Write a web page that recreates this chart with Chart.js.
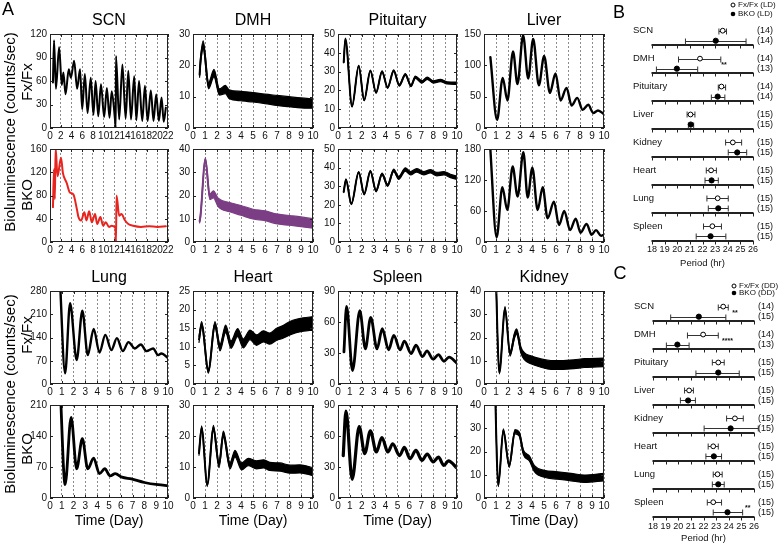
<!DOCTYPE html>
<html><head><meta charset="utf-8">
<script src="https://cdn.jsdelivr.net/npm/chart.js@4.4.1/dist/chart.umd.min.js"></script>
<style>
html,body{margin:0;padding:0;background:#fff;}
#wrap{position:relative;width:780px;height:545px;overflow:hidden;font-family:"Liberation Sans",Arial,sans-serif;color:#000;}
canvas{position:absolute;}
.t{position:absolute;white-space:nowrap;transform:translate(-50%,-50%);line-height:1;}
.v{position:absolute;white-space:nowrap;transform:translate(-50%,-50%) rotate(-90deg);line-height:1;}
</style></head><body><div id="wrap"></div>
<script>
// ---------------- DATA: bioluminescence traces (time in days, counts/sec) ----------------
// *N arrays = half-width of the noise band (counts/sec)
const scnFxT = [0.55,0.75,1.1,1.7,2.2,2.5,2.9,3.5,3.9,4.5,5.05,5.6,6.0,6.5,7.0,7.6,8.1,8.5,9.0,9.5,10.1,10.6,11.1,11.5,12.1,12.25,12.3,12.9,13.5,14.1,14.6,15.1,15.7,16.1,16.6,17.2,17.7,18.2,18.8,19.3,19.8,20.3,20.8,21.2,21.6];
const scnFxV = [58,112,50,103,55,71,43,75,64,86,50,75,24,69,19,64,17,60,15,56,14,51,13,47,12,0,92,11,81,12,73,11,66,10,60,9,54,9,48,9,43,9,39,8,26];
const scnKoT = [0.55,0.75,0.9,1.05,1.4,2.05,2.4,3.1,3.7,4.35,5.0,5.3,5.8,6.4,6.8,7.3,7.8,8.4,8.8,9.4,9.9,10.4,11.0,11.5,12.2,12.3,12.4,12.9,13.3,14.0,14.6,15.5,17.0,18.5,20.0,21.6];
const scnKoV = [60,125,74,162,113,145,119,102,85,82,57,43,37,51,37,53,34,48,31,43,28,34,26,28,24,0,80,45,48,37,31,28,26,27,26,27];
const dmhFxT = [0.55,0.62,0.85,1.3,1.75,2.2,2.7,3.0,4.0,5.0,6.0,7.0,8.0,9.0,10.0];
const dmhFxV = [17,21,26.5,13.5,17.5,11.5,12.3,10.8,10.2,9.8,9.3,8.8,8.4,8.0,7.8];
const dmhFxN = [0.8,1,1.3,1,1.2,1,1.3,1.4,1.5,1.5,1.5,1.6,1.6,1.6,1.5];
const dmhKoT = [0.55,0.62,1.03,1.4,1.7,2.1,3.05,4.0,5.0,6.0,6.9,8.05,9.0,10.0];
const dmhKoV = [9,11,35.5,19.5,20.5,17,15,13.6,12,11.3,10,9.3,8.7,8];
const dmhKoN = [0.8,0.8,0.8,1.2,1.5,1.8,2,2.1,2.1,2.1,2.1,2.1,2.1,2];
const pitFxT = [0.48,0.62,1.18,1.74,2.2,2.72,3.2,3.7,4.17,4.68,5.15,5.66,6.13,6.5,7.06,7.5,8.0,8.6,9.16,10];
const pitFxV = [35,47.5,11.5,33,14.8,30.5,18.8,30,21.5,30.5,22.8,28.5,22.5,27,24.5,26.5,24.5,25.3,24,23.8];
const pitFxN = [0.3,0.3,0.3,0.3,0.3,0.3,0.3,0.4,0.4,0.4,0.5,0.5,0.5,0.6,0.6,0.6,0.6,0.6,0.6,0.6];
const pitKoT = [0.48,0.67,1.12,1.74,2.2,2.72,3.2,3.7,4.17,4.68,5.1,5.66,6.1,6.6,7.2,7.76,8.3,8.9,9.45,10];
const pitKoV = [27,33.5,20.5,37.5,25.8,38,27.5,36.5,30.5,38.5,34.5,39,37,38.5,37,38,36.5,37,35.5,34.5];
const pitKoN = [0.4,0.4,0.4,0.4,0.5,0.5,0.5,0.6,0.6,0.7,0.8,0.9,0.9,0.9,0.9,0.9,0.9,0.9,0.9,0.9];
const livFxT = [0.53,1.09,1.56,1.95,2.42,2.79,3.26,3.68,4.1,4.57,5.01,5.49,5.96,6.38,6.88,7.3,7.77,8.22,8.69,9.1,9.5,10];
const livFxV = [113,13,80,44,122,70,148,79,142,68,115,56,87,44,64,36,48,29,37,24,28,22];
const livKoT = [0.5,1.05,1.53,1.94,2.39,2.8,3.28,3.64,4.03,4.47,4.89,5.3,5.83,6.25,6.69,7.17,7.64,8.05,8.55,8.97,9.33,9.75,10];
const livKoV = [190,9,106,62,146,88,174,86,144,62,106,46,78,33,60,23,45,18,35,14,23,12,14];
const lunFxT = [0.82,1.28,1.7,2.26,2.74,3.2,3.7,4.19,4.69,5.2,5.67,6.17,6.65,7.2,7.7,8.18,8.74,9.16,9.44,10];
const lunFxV = [330,32,243,72,221,87,166,95,148,102,138,99,126,107,119,99,107,87,92,78];
const lunKoT = [0.85,1.28,1.79,2.26,2.74,3.2,3.7,4.19,4.64,5.1,5.53,6.1,6.9,8.0,9.16,10];
const lunKoV = [260,30,182,66,134,66,90,55,66,50,55,47,43,35,30,28];
const hrtFxT = [0.5,0.72,1.28,1.83,2.25,2.72,3.17,3.72,4.19,4.75,5.3,5.86,6.4,6.97,7.5,8.08,8.6,9.2,10];
const hrtFxV = [12,16,3.5,16,9.8,14.8,10.6,13.8,10.9,13.2,11.8,12.8,12.2,13.4,14,15,15.6,16,16.3];
const hrtFxN = [0.8,0.8,0.6,0.8,0.9,1,1,1.1,1.2,1.3,1.4,1.5,1.5,1.6,1.7,1.8,1.8,1.8,1.8];
const hrtKoT = [0.5,0.72,1.19,1.7,2.17,2.53,3.08,3.5,4.05,4.6,5.3,5.86,6.4,7.25,8.1,8.9,10];
const hrtKoV = [14.5,22.5,4.3,22.5,10.8,20.6,10.4,14.3,10.2,11.6,10.7,11,10.2,10,9.3,9.4,8.5];
const hrtKoN = [0.7,0.8,0.6,0.9,1,1,1,1.1,1.1,1.2,1.3,1.3,1.3,1.3,1.3,1.3,1.3];
const splFxT = [0.5,0.72,1.22,1.83,2.3,2.75,3.28,3.72,4.25,4.69,5.22,5.58,6.14,6.56,7.1,7.47,8.0,8.44,8.9,9.33,10];
const splFxV = [31,75,13,71,34,64.5,34,53.5,33,47,33,41.5,29.5,37.5,26.5,32,24,28.5,22,26,20];
const splKoT = [0.44,0.67,1.19,1.78,2.25,2.72,3.22,3.69,4.19,4.6,5.17,5.58,6.05,6.55,7.05,7.5,8.0,8.44,8.9,9.28,10];
const splKoV = [41,84,18,69,43,65,44.5,58.5,44.5,52.5,41,49,38,46,36.5,42.5,35,39.5,31.5,36,29];
const kidFxT = [0.92,1.28,1.75,2.17,2.55,2.72,3.08,3.36,3.9,4.75,5.58,6.4,7.5,8.36,10];
const kidFxV = [60,4.8,32.5,13,21,22.5,14.5,12,10.4,9,8.2,8.2,8.5,9,9.3];
const kidFxN = [0.5,0.5,0.8,1,1.1,1.2,1.3,1.5,1.7,1.8,1.9,1.9,1.9,1.9,1.8];
const kidKoT = [0.86,1.19,1.61,2.1,2.58,2.94,3.28,3.78,4.2,5.03,6.14,7.25,8.36,10];
const kidKoV = [60,5.4,29,14,28.5,27.5,19.7,17,12.6,10.4,9.7,9,8.3,9];
const kidKoN = [0.5,0.5,0.7,0.8,0.9,0.9,1,1.1,1.3,1.5,1.6,1.6,1.6,1.6];

// ---------------- DATA: period (hr), mean and error-bar limits ----------------
const tissues = ['SCN','DMH','Pituitary','Liver','Kidney','Heart','Lung','Spleen'];
const ldFxMean = [23.6,21.8,23.5,21.05,24.4,22.68,23.2,22.78];
const ldFxLo   = [23.3,20.1,23.25,20.78,23.83,22.3,22.35,22.08];
const ldFxHi   = [23.9,23.45,23.83,21.4,25.1,23.1,24.04,23.5];
const ldKoMean = [23.05,19.97,23.2,21.07,24.75,22.72,23.25,22.64];
const ldKoLo   = [20.65,18.35,22.7,20.88,24.04,22.2,22.46,21.5];
const ldKoHi   = [25.45,21.62,23.77,21.3,25.5,23.25,24.04,23.85];
const ldFxN = ['(14)','(14)','(14)','(15)','(15)','(15)','(15)','(15)'];
const ldKoN = ['(14)','(13)','(14)','(15)','(15)','(15)','(15)','(15)'];
const ldSig  = ['','**','','','','','',''];
const ldSigX = [0,23.7,0,0,0,0,0,0];

const ddFxMean = [23.56,21.97,23.17,20.86,24.49,22.77,23.11,22.77];
const ddFxLo   = [23.17,20.73,22.7,20.5,23.83,22.37,22.77,22.3];
const ddFxHi   = [23.96,23.17,23.64,21.2,25.15,23.17,23.48,23.43];
const ddKoMean = [21.63,19.93,23.17,20.78,24.15,22.82,23.17,23.9];
const ddKoLo   = [19.4,19.06,21.4,20.17,22.05,22.19,22.7,22.77];
const ddKoHi   = [23.77,20.86,24.83,21.36,26.34,23.43,23.64,25.1];
const ddFxN = ['(14)','(14)','(15)','(15)','(15)','(15)','(15)','(15)'];
const ddKoN = ['(15)','(13)','(15)','(15)','(15)','(15)','(15)','(15)'];
const ddSig  = ['**','****','','','','','','**'];
const ddSigX = [24.5,23.9,0,0,0,0,0,25.5];

// ---------------- LAYOUT / STYLE ----------------
const FONT = '"Liberation Sans", Arial, sans-serif';
Chart.defaults.font.family = FONT;
Chart.defaults.color = '#111';
const wrap = document.getElementById('wrap');
const BLACK = '#000', RED = '#e9231d', PURPLE = '#7b3e84';
const COLS = [[50,168],[193,313],[338,457],[484,604]];
const ROWS = [[33,128],[148,242],[290,384],[404,498]];

function txt(s, x, y, size, rot) {
  const d = document.createElement('div');
  d.className = rot ? 'v' : 't';
  d.textContent = s;
  d.style.left = x + 'px'; d.style.top = y + 'px'; d.style.fontSize = size + 'px';
  wrap.appendChild(d);
}

const boxPlugin = {
  id: 'box',
  afterDraw(chart) {
    const {ctx, chartArea: a, scales} = chart;
    ctx.save();
    ctx.setLineDash([]);
    ctx.strokeStyle = '#222'; ctx.lineWidth = 1;
    ctx.strokeRect(a.left + 0.5, a.top + 0.5, a.right - a.left - 1, a.bottom - a.top - 1);
    ctx.beginPath();
    scales.y.ticks.forEach(t => {
      const y = Math.round(scales.y.getPixelForValue(t.value)) + 0.5;
      ctx.moveTo(a.left, y); ctx.lineTo(a.left + 3, y);
      ctx.moveTo(a.right, y); ctx.lineTo(a.right - 3, y);
    });
    scales.x.ticks.forEach(t => {
      const x = Math.round(scales.x.getPixelForValue(t.value)) + 0.5;
      ctx.moveTo(x, a.bottom); ctx.lineTo(x, a.bottom - 3);
      ctx.moveTo(x, a.top); ctx.lineTo(x, a.top + 3);
    });
    ctx.stroke();
    ctx.restore();
  }
};

function makeTrace(p) {
  const [x0, x1] = COLS[p.c], [y0, y1] = ROWS[p.r];
  const padL = 34, padT = 8, padR = 10, axH = 16;
  const W = x1 - x0 + padL + padR, H = y1 - y0 + padT + axH;
  const c = document.createElement('canvas');
  c.width = W; c.height = H;
  c.style.left = (x0 - padL) + 'px'; c.style.top = (y0 - padT) + 'px';
  c.style.width = W + 'px'; c.style.height = H + 'px';
  wrap.appendChild(c);
  const common = { pointRadius: 0, cubicInterpolationMode: 'monotone', clip: 0, borderJoinStyle: 'round', borderCapStyle: 'round', borderColor: p.color };
  const datasets = [];
  if (p.N) {
    datasets.push(Object.assign({}, common, { data: p.T.map((t, i) => ({x: t, y: p.V[i] + p.N[i]})), borderWidth: 1.2, fill: '+1', backgroundColor: p.color }));
    datasets.push(Object.assign({}, common, { data: p.T.map((t, i) => ({x: t, y: p.V[i] - p.N[i]})), borderWidth: 1.2, fill: false }));
  }
  datasets.push(Object.assign({}, common, { data: p.T.map((t, i) => ({x: t, y: p.V[i]})), borderWidth: p.w, fill: false }));
  new Chart(c, {
    type: 'line',
    data: { datasets },
    options: {
      responsive: false, animation: false, devicePixelRatio: 1,
      layout: { padding: { top: padT, right: padR, left: 0, bottom: 0 } },
      plugins: { legend: { display: false }, tooltip: { enabled: false } },
      scales: {
        x: {
          type: 'linear', min: 0, max: p.xMax,
          afterFit: s => { s.height = axH; },
          ticks: { stepSize: p.xStep, autoSkip: false, maxRotation: 0, minRotation: 0, padding: 2, font: { size: 10 }, color: '#111' },
          grid: { color: '#8c8c8c', lineWidth: 1, drawTicks: false },
          border: { display: false, dash: [2, 2] }
        },
        y: {
          min: 0, max: p.yMax,
          afterFit: s => { s.width = padL; },
          ticks: { stepSize: p.yStep, padding: 3, font: { size: 10 }, color: '#111' },
          grid: { display: false, drawTicks: false },
          border: { display: false }
        }
      }
    },
    plugins: [boxPlugin]
  });
}

const panels = [
  {c:0,r:0,T:scnFxT,V:scnFxV,xMax:22,xStep:2,yMax:120,yStep:30,color:BLACK,w:2},
  {c:0,r:1,T:scnKoT,V:scnKoV,xMax:22,xStep:2,yMax:160,yStep:40,color:RED,w:2},
  {c:1,r:0,T:dmhFxT,V:dmhFxV,N:dmhFxN,xMax:10,xStep:1,yMax:30,yStep:10,color:BLACK,w:2},
  {c:1,r:1,T:dmhKoT,V:dmhKoV,N:dmhKoN,xMax:10,xStep:1,yMax:40,yStep:10,color:PURPLE,w:2},
  {c:2,r:0,T:pitFxT,V:pitFxV,N:pitFxN,xMax:10,xStep:1,yMax:50,yStep:10,color:BLACK,w:2},
  {c:2,r:1,T:pitKoT,V:pitKoV,N:pitKoN,xMax:10,xStep:1,yMax:50,yStep:10,color:BLACK,w:2},
  {c:3,r:0,T:livFxT,V:livFxV,xMax:10,xStep:1,yMax:150,yStep:50,color:BLACK,w:2.4},
  {c:3,r:1,T:livKoT,V:livKoV,xMax:10,xStep:1,yMax:180,yStep:60,color:BLACK,w:2.4},
  {c:0,r:2,T:lunFxT,V:lunFxV,xMax:10,xStep:1,yMax:280,yStep:70,color:BLACK,w:2.4},
  {c:0,r:3,T:lunKoT,V:lunKoV,xMax:10,xStep:1,yMax:210,yStep:70,color:BLACK,w:2.8},
  {c:1,r:2,T:hrtFxT,V:hrtFxV,N:hrtFxN,xMax:10,xStep:1,yMax:25,yStep:5,color:BLACK,w:2},
  {c:1,r:3,T:hrtKoT,V:hrtKoV,N:hrtKoN,xMax:10,xStep:1,yMax:30,yStep:10,color:BLACK,w:2},
  {c:2,r:2,T:splFxT,V:splFxV,xMax:10,xStep:1,yMax:90,yStep:30,color:BLACK,w:2.8},
  {c:2,r:3,T:splKoT,V:splKoV,xMax:10,xStep:1,yMax:90,yStep:30,color:BLACK,w:3.2},
  {c:3,r:2,T:kidFxT,V:kidFxV,N:kidFxN,xMax:10,xStep:1,yMax:40,yStep:10,color:BLACK,w:2},
  {c:3,r:3,T:kidKoT,V:kidKoV,N:kidKoN,xMax:10,xStep:1,yMax:40,yStep:10,color:BLACK,w:2}
];
panels.forEach(makeTrace);

// ---------------- Period panels (B, C) ----------------
const KO_OFF = 0.36, AXIS_OFF = 0.53, SIG_OFF = 0.18;
function makePeriod(cfg) {
  const c = document.createElement('canvas');
  c.width = cfg.W; c.height = cfg.H;
  c.style.left = cfg.left + 'px'; c.style.top = cfg.top + 'px';
  c.style.width = cfg.W + 'px'; c.style.height = cfg.H + 'px';
  wrap.appendChild(c);
  const plug = {
    id: 'period',
    beforeDatasetsDraw(chart) {
      const {ctx} = chart; const xs = chart.scales.x, ys = chart.scales.y;
      ctx.save(); ctx.setLineDash([]);
      tissues.forEach((nm, i) => {
        const y = Math.round(ys.getPixelForValue(i + AXIS_OFF));
        const xa = xs.getPixelForValue(xs.min), xb = xs.getPixelForValue(xs.max);
        ctx.strokeStyle = '#222'; ctx.lineWidth = 2;
        ctx.beginPath(); ctx.moveTo(xa - 0.5, y); ctx.lineTo(xb + 0.5, y); ctx.stroke();
        ctx.lineWidth = 1; ctx.beginPath();
        for (let h = xs.min; h <= xs.max; h++) {
          const x = Math.round(xs.getPixelForValue(h)) + 0.5;
          ctx.moveTo(x, y); ctx.lineTo(x, y + 3.5);
        }
        ctx.stroke();
      });
      const bar = (lo, hi, v) => {
        const y = Math.round(ys.getPixelForValue(v)) + 0.5;
        const a = xs.getPixelForValue(lo), b = xs.getPixelForValue(hi);
        ctx.beginPath();
        ctx.moveTo(a, y); ctx.lineTo(b, y);
        ctx.moveTo(a, y - 3); ctx.lineTo(a, y + 3);
        ctx.moveTo(b, y - 3); ctx.lineTo(b, y + 3);
        ctx.stroke();
      };
      ctx.strokeStyle = '#333'; ctx.lineWidth = 1;
      tissues.forEach((nm, i) => {
        bar(cfg.fxLo[i], cfg.fxHi[i], i);
        bar(cfg.koLo[i], cfg.koHi[i], i + KO_OFF);
      });
      ctx.restore();
    },
    afterDraw(chart) {
      const {ctx, chartArea: a} = chart; const xs = chart.scales.x, ys = chart.scales.y;
      ctx.save();
      ctx.fillStyle = '#111'; ctx.textBaseline = 'middle';
      tissues.forEach((nm, i) => {
        ctx.font = '9.5px ' + FONT; ctx.textAlign = 'left';
        ctx.fillText(nm, a.left - 19, ys.getPixelForValue(i));
        ctx.font = '9px ' + FONT;
        ctx.fillText(cfg.fxN[i], a.right + 4, ys.getPixelForValue(i));
        ctx.fillText(cfg.koN[i], a.right + 4, ys.getPixelForValue(i + KO_OFF));
        if (cfg.sig[i]) {
          ctx.font = 'bold 7px ' + FONT; ctx.textAlign = 'center';
          ctx.fillText(cfg.sig[i], xs.getPixelForValue(cfg.sigX[i]), ys.getPixelForValue(i + SIG_OFF) + 1);
        }
      });
      const lx = a.right - 20;
      ctx.font = '8px ' + FONT; ctx.textAlign = 'left';
      ctx.strokeStyle = '#000'; ctx.lineWidth = 1;
      ctx.beginPath(); ctx.arc(lx, cfg.legY[0], 2, 0, Math.PI * 2); ctx.fillStyle = '#fff'; ctx.fill(); ctx.stroke();
      ctx.beginPath(); ctx.arc(lx, cfg.legY[1], 2.3, 0, Math.PI * 2); ctx.fillStyle = '#000'; ctx.fill();
      ctx.fillStyle = '#111';
      ctx.fillText(cfg.legend[0], lx + 5, cfg.legY[0]);
      ctx.fillText(cfg.legend[1], lx + 5, cfg.legY[1]);
      ctx.restore();
    }
  };
  new Chart(c, {
    type: 'scatter',
    data: { datasets: [
      { data: tissues.map((n, i) => ({x: cfg.fxMean[i], y: i})), pointRadius: 2.4, pointBackgroundColor: '#fff', pointBorderColor: '#000', pointBorderWidth: 1 },
      { data: tissues.map((n, i) => ({x: cfg.koMean[i], y: i + KO_OFF})), pointRadius: 2.6, pointBackgroundColor: '#000', pointBorderColor: '#000', pointBorderWidth: 1 }
    ]},
    options: {
      responsive: false, animation: false, devicePixelRatio: 1,
      layout: { padding: { top: 2, left: cfg.padL, right: cfg.padR, bottom: 0 } },
      plugins: { legend: { display: false }, tooltip: { enabled: false } },
      scales: {
        x: {
          type: 'linear', min: 18, max: 26,
          afterFit: s => { s.height = cfg.axH; },
          ticks: { stepSize: 1, autoSkip: false, maxRotation: 0, padding: cfg.tickPad, font: { size: 9 }, color: '#111' },
          grid: { display: false, drawTicks: false },
          border: { display: false },
          title: { display: true, text: 'Period (hr)', font: { size: 9.5 }, color: '#111', padding: { top: 0, bottom: 1 } }
        },
        y: { display: false, reverse: true, min: cfg.yMin, max: 7 + AXIS_OFF }
      }
    },
    plugins: [plug]
  });
}

makePeriod({ left: 600, top: 0, W: 180, H: 270, padL: 52, padR: 27, axH: 29, tickPad: 3, yMin: -0.92,
  fxMean: ldFxMean, fxLo: ldFxLo, fxHi: ldFxHi, koMean: ldKoMean, koLo: ldKoLo, koHi: ldKoHi,
  fxN: ldFxN, koN: ldKoN, sig: ldSig, sigX: ldSigX, legend: ['Fx/Fx (LD)', 'BKO (LD)'], legY: [5, 14] });
makePeriod({ left: 600, top: 265, W: 180, H: 280, padL: 53, padR: 26, axH: 28, tickPad: 4, yMin: -1.31,
  fxMean: ddFxMean, fxLo: ddFxLo, fxHi: ddFxHi, koMean: ddKoMean, koLo: ddKoLo, koHi: ddKoHi,
  fxN: ddFxN, koN: ddKoN, sig: ddSig, sigX: ddSigX, legend: ['Fx/Fx (DD)', 'BKO (DD)'], legY: [21, 28] });

// ---------------- Text labels ----------------
const titles = ['SCN','DMH','Pituitary','Liver','Lung','Heart','Spleen','Kidney'];
titles.forEach((s, i) => {
  const col = COLS[i % 4];
  txt(s, (col[0] + col[1]) / 2, i < 4 ? 20 : 277, 16);
});
COLS.forEach(col => txt('Time (Day)', (col[0] + col[1]) / 2, 520, 14));
txt('Bioluminescence (counts/sec)', 9, 132, 15, true);
txt('Bioluminescence (counts/sec)', 9, 394, 15, true);
txt('Fx/Fx', 26, 82, 15, true);
txt('BKO', 26, 195, 15, true);
txt('Fx/Fx', 26, 335, 15, true);
txt('BKO', 26, 449, 15, true);
txt('A', 8, 9, 18);
txt('B', 619, 12, 18);
txt('C', 620, 273, 18);
</script></body></html>
